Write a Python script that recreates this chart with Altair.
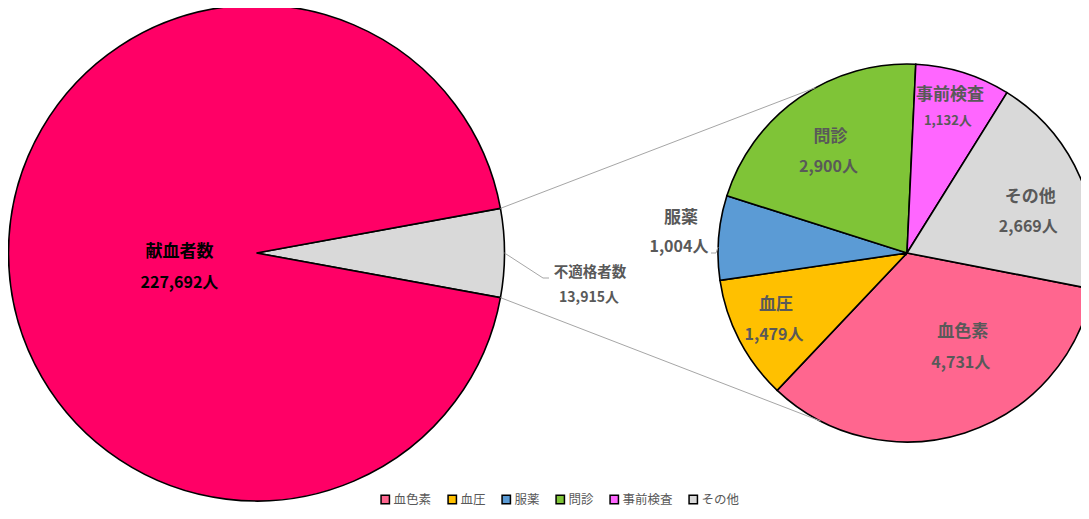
import math
import altair as alt
import pandas as pd

# ---------------- data ----------------
left_labels = ["不適格者数", "献血者数"]
left_values = [13915, 227692]
left_colors = ["#D9D9D9", "#FF0066"]

right_labels = ["血色素", "血圧", "服薬", "問診", "事前検査", "その他"]
right_values = [4731, 1479, 1004, 2900, 1132, 2669]
right_colors = ["#FF668F", "#FFC000", "#5B9BD5", "#7FC437", "#FF66FF", "#D9D9D9"]
unit = "人"

# ---------------- geometry (layout only) ----------------
W, H = 1073, 503
M = 8
LCX, LCY, LR = 256.5 - M, 253 - M, 248
RCX, RCY, RR = 907 - M, 253 - M, 189
RIGHT_START_DEG = 101
CONNECT_DEG = (331, 207.2)
FONT = "Noto Sans CJK JP"
GRAY = "#595959"
LINE_GRAY = "#A6A6A6"

left_total = sum(left_values)
right_total = sum(right_values)
half = left_values[0] / left_total * math.pi
left_start = math.pi / 2 - half
right_start = math.radians(RIGHT_START_DEG)


def polar(cx, cy, r, ang):
    return cx + r * math.sin(ang), cy - r * math.cos(ang)


def fmt(v):
    return f"{v:,}{unit}"


# ---------------- arcs ----------------
left_df = pd.DataFrame({"label": left_labels, "value": left_values, "ord": list(range(len(left_labels)))})
right_df = pd.DataFrame({"label": right_labels, "value": right_values, "ord": list(range(len(right_labels)))})

left_arc = alt.Chart(left_df).mark_arc(stroke="black", strokeWidth=1.6, radius=LR).encode(
    theta=alt.Theta("value:Q", stack=True,
                    scale=alt.Scale(domain=[0, left_total], range=[left_start, left_start + 2 * math.pi])),
    color=alt.Color("label:N", scale=alt.Scale(domain=left_labels, range=left_colors), legend=None),
    order=alt.Order("ord:Q"),
    x=alt.value(LCX), y=alt.value(LCY),
)

right_arc = alt.Chart(right_df).mark_arc(stroke="black", strokeWidth=1.6, radius=RR).encode(
    theta=alt.Theta("value:Q", stack=True,
                    scale=alt.Scale(domain=[0, right_total], range=[right_start, right_start + 2 * math.pi])),
    color=alt.Color("label:N", scale=alt.Scale(domain=right_labels, range=right_colors),
                    legend=alt.Legend(title=None, orient="none", direction="horizontal",
                                      legendX=371, legendY=485, symbolType="square", symbolSize=70,
                                      symbolStrokeColor="black", symbolStrokeWidth=1.5,
                                      labelFont=FONT, labelFontSize=12.5, labelColor=GRAY,
                                      labelOffset=2, columnPadding=13)),
    order=alt.Order("ord:Q"),
    x=alt.value(RCX), y=alt.value(RCY),
)

# ---------------- connectors ----------------
p_up = polar(LCX, LCY, LR, left_start)
p_dn = polar(LCX, LCY, LR, left_start + 2 * half)
q_up = polar(RCX, RCY, RR, math.radians(CONNECT_DEG[0]))
q_dn = polar(RCX, RCY, RR, math.radians(CONNECT_DEG[1]))
gray_mid = polar(LCX, LCY, LR, math.pi / 2)

seg = [
    (p_up, q_up), (p_dn, q_dn),
    (gray_mid, (543 - M, 278 - M)), ((543 - M, 278 - M), (549 - M, 278 - M)),
    ((718 - M, 247 - M), (716 - M, 253 - M)), ((716 - M, 253 - M), (711 - M, 253 - M)),
]
seg_df = pd.DataFrame({
    "x": [s[0][0] for s in seg], "y": [s[0][1] for s in seg],
    "x2": [s[1][0] for s in seg], "y2": [s[1][1] for s in seg],
})

XS = alt.Scale(domain=[0, W], range=[0, W], zero=False, nice=False)
YS = alt.Scale(domain=[0, H], range=[0, H], zero=False, nice=False)

rules = alt.Chart(seg_df).mark_rule(color=LINE_GRAY, strokeWidth=1).encode(
    x=alt.X("x:Q", scale=XS, axis=None), y=alt.Y("y:Q", scale=YS, axis=None),
    x2="x2:Q", y2="y2:Q",
)

# ---------------- labels ----------------
rows = []
cum = 0
# placement per label: (radius, angle nudge deg, name size, value size, half spacing)
right_place = {
    "血色素": (110, -12.7, 17, 16, 15.5),
    "血圧": (147, 0.5, 17, 16, 15),
    "服薬": (227, 0.6, 17, 16, 14.5),
    "問診": (127, -2.2, 17, 16, 15),
    "事前検査": (151, -0.8, 17, 13, 13),
    "その他": (130, 5.1, 17, 16, 15),
}
for lab, v in zip(right_labels, right_values):
    mid = right_start + (cum + v / 2) / right_total * 2 * math.pi
    cum += v
    r, nud, s1, s2, d = right_place[lab]
    cx, cy = polar(RCX, RCY, r, mid + math.radians(nud))
    rows.append({"t": lab, "x": cx, "y": cy - d, "s": s1, "c": GRAY})
    rows.append({"t": fmt(v), "x": cx - 2, "y": cy + d, "s": s2, "c": GRAY})

# left pie labels
big_mid = left_start + half + math.pi  # middle of large slice
bx, by = polar(LCX, LCY, 78.5, big_mid - math.radians(11))
rows.append({"t": left_labels[1], "x": bx, "y": by - 15.5, "s": 17, "c": "black"})
rows.append({"t": fmt(left_values[1]), "x": bx, "y": by + 15.5, "s": 16, "c": "black"})
rows.append({"t": left_labels[0], "x": 590 - M, "y": 273 - M, "s": 14.5, "c": GRAY})
rows.append({"t": fmt(left_values[0]), "x": 589 - M, "y": 298 - M, "s": 14, "c": GRAY})

lab_df = pd.DataFrame(rows)
texts = alt.Chart(lab_df).mark_text(font=FONT, fontWeight="bold", baseline="middle", align="center").encode(
    x=alt.X("x:Q", scale=XS, axis=None), y=alt.Y("y:Q", scale=YS, axis=None),
    text="t:N",
    size=alt.Size("s:Q", scale=None, legend=None),
    color=alt.Color("c:N", scale=None, legend=None),
)

chart = alt.layer(left_arc, right_arc, rules, texts).resolve_scale(
    color="independent", theta="independent", size="independent"
).properties(
    width=W, height=H, padding=0, autosize=alt.AutoSizeParams(type="none"), background="white"
).configure_view(stroke=None)

chart.save("out.html", embed_options={"renderer": "svg", "actions": False})
